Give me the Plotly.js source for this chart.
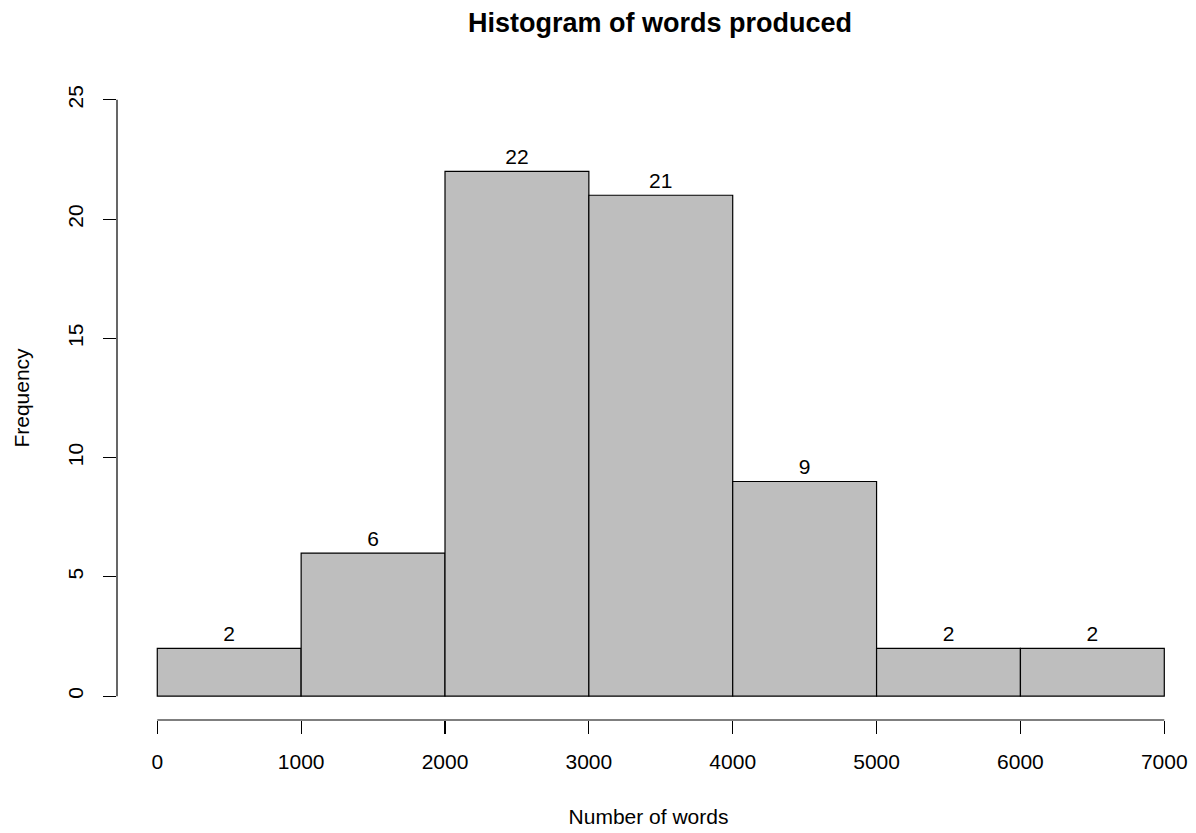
<!DOCTYPE html>
<html>
<head>
<meta charset="utf-8">
<script src="https://cdn.plot.ly/plotly-3.0.1.min.js"></script>
<style>
  html, body { margin: 0; padding: 0; background: #ffffff; }
  #chart { width: 1196px; height: 833px; }
</style>
</head>
<body>
<div id="chart"></div>
<script>
// ---- data ----
const chartTitle = "Histogram of words produced";
const xLabel = "Number of words";
const yLabel = "Frequency";
const binBreaks = [0, 1000, 2000, 3000, 4000, 5000, 6000, 7000];
const binCounts = [2, 6, 22, 21, 9, 2, 2];
const xTicks = [0, 1000, 2000, 3000, 4000, 5000, 6000, 7000];
const yTicks = [0, 5, 10, 15, 20, 25];

// ---- derived for the library ----
const mids = binCounts.map((_, i) => (binBreaks[i] + binBreaks[i + 1]) / 2);
const widths = binCounts.map((_, i) => binBreaks[i + 1] - binBreaks[i]);

const FONT = "Liberation Sans, Arial, Helvetica, sans-serif";

const trace = {
  type: "bar",
  x: mids,
  y: binCounts,
  width: widths,
  text: binCounts.map(String),
  textposition: "outside",
  cliponaxis: false,
  textfont: { family: FONT, size: 21, color: "#000000" },
  marker: { color: "#BEBEBE", line: { color: "#000000", width: 1.2 } },
  hoverinfo: "x+y",
  showlegend: false
};

const layout = {
  width: 1196,
  height: 833,
  paper_bgcolor: "#ffffff",
  plot_bgcolor: "#ffffff",
  margin: { l: 117, r: 16, t: 76, b: 113, pad: 0 },
  font: { family: FONT, size: 21, color: "#000000" },
  title: {
    text: "<b>" + chartTitle + "</b>",
    font: { family: FONT, size: 27, color: "#000000" },
    x: 660 / 1196, xref: "container", xanchor: "center",
    y: 1 - 23 / 833, yref: "container", yanchor: "middle"
  },
  bargap: 0,
  xaxis: {
    range: [-280, 7109.2],
    tickmode: "array",
    tickvals: xTicks,
    ticktext: xTicks.map(String),
    ticks: "outside",
    ticklen: 13,
    tickwidth: 1.2,
    tickcolor: "#000000",
    ticklabelstandoff: 10,
    showline: false,
    showgrid: false,
    zeroline: false,
    tickfont: { family: FONT, size: 21, color: "#000000" },
    title: { text: xLabel, font: { family: FONT, size: 21, color: "#000000" }, standoff: 37 }
  },
  yaxis: {
    range: [-1, 26],
    tickmode: "array",
    tickvals: yTicks,
    ticktext: yTicks.map(String),
    tickangle: -90,
    ticks: "outside",
    ticklen: 13,
    tickwidth: 1.2,
    tickcolor: "#000000",
    ticklabelstandoff: 12,
    showline: false,
    showgrid: false,
    zeroline: false,
    tickfont: { family: FONT, size: 21, color: "#000000" },
    title: { text: yLabel, font: { family: FONT, size: 21, color: "#000000" }, standoff: 28 }
  },
  shapes: [
    { type: "line", xref: "x", yref: "paper",
      x0: xTicks[0], x1: xTicks[xTicks.length - 1], y0: 0, y1: 0,
      line: { color: "#000000", width: 1.2 } },
    { type: "line", xref: "paper", yref: "y",
      x0: 0, x1: 0, y0: yTicks[0], y1: yTicks[yTicks.length - 1],
      line: { color: "#000000", width: 1.2 } }
  ]
};

Plotly.newPlot("chart", [trace], layout, { displayModeBar: false, staticPlot: true });
</script>
</body>
</html>
